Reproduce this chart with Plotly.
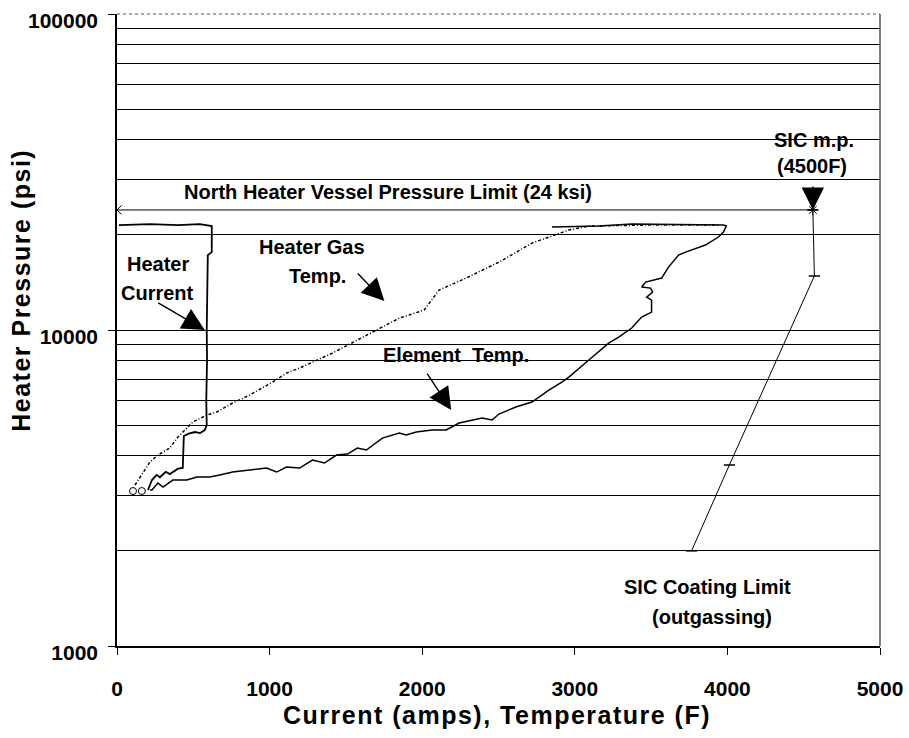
import math
import plotly.graph_objects as go

# ---------------- data ----------------
current_x = [203, 216, 229, 260, 281, 320, 346, 400, 431, 438, 470, 510, 545, 575, 588, 585, 590, 588, 592, 595, 621, 621, 542, 400, 216, 13]
current_y = [3117, 3250, 3352, 3480, 3420, 3560, 3500, 3640, 3660, 4619, 4700, 4756, 4720, 4826, 5000, 6000, 8000, 10000, 12440, 17270, 17650, 21340, 21650, 21500, 21650, 21490]

gas_x = [118, 150, 216, 268, 346, 399, 497, 588, 654, 758, 869, 1020, 1111, 1196, 1412, 1575, 1739, 1850, 2013, 2111, 2288, 2503, 2719, 2830, 2961, 3092, 3500, 3941]
gas_y = [3233, 3426, 3822, 4022, 4232, 4585, 5116, 5383, 5502, 5875, 6228, 6846, 7310, 7581, 8457, 9298, 10220, 10910, 11570, 13390, 14610, 16410, 18850, 19700, 20730, 21340, 21500, 21490]

element_x = [216, 229, 268, 301, 366, 458, 523, 608, 673, 758, 869, 980, 1046, 1111, 1196, 1281, 1360, 1438, 1510, 1575, 1634, 1739, 1850, 1895, 1961, 2065, 2157, 2242, 2392, 2458, 2503, 2614, 2719, 2765, 2830, 2915, 2961, 3092, 3222, 3288, 3373, 3438, 3503, 3503, 3471, 3510, 3497, 3438, 3464, 3569, 3614, 3680, 3726, 3856, 3941, 3974, 3993, 3974, 3373, 3157, 2850]
element_y = [3117, 3117, 3280, 3186, 3352, 3352, 3426, 3426, 3477, 3553, 3606, 3658, 3553, 3685, 3658, 3878, 3794, 4022, 4051, 4232, 4171, 4551, 4722, 4653, 4756, 4826, 4826, 5079, 5267, 5191, 5423, 5706, 5918, 6138, 6459, 6846, 7101, 8037, 9096, 9502, 10150, 10990, 11400, 12440, 12720, 13190, 13580, 13680, 14190, 14610, 15820, 17270, 17650, 18580, 19700, 20430, 21340, 21490, 21650, 21340, 21180]

start_x = [105, 163]
start_y = [3094, 3094]

limit_x = [0, 4560]
limit_y = [24000, 24000]

sic_x = [4560, 4570, 4013, 3765]
sic_y = [24000, 14830, 3740, 2000]

x_ticks = [0, 1000, 2000, 3000, 4000, 5000]
y_ticks = [1000, 10000, 100000]

# ---------------- figure ----------------
FAM = "Liberation Sans"
BOLD = dict(family=FAM, color="black", weight="bold")

fig = go.Figure()
fig.add_trace(go.Scatter(x=limit_x, y=limit_y, mode="lines+markers",
                         line=dict(color="black", width=1),
                         marker=dict(symbol=["x-thin-open", "asterisk-open"], size=9, color="black",
                                     line=dict(color="black", width=1))))
fig.add_trace(go.Scatter(x=sic_x, y=sic_y, mode="lines+markers",
                         line=dict(color="black", width=1),
                         marker=dict(symbol="line-ew-open", size=8, color="black",
                                     line=dict(color="black", width=1.5))))
fig.add_trace(go.Scatter(x=gas_x, y=gas_y, mode="lines",
                         line=dict(color="black", width=1.5, dash="3px,2px,1px,2px")))
fig.add_trace(go.Scatter(x=element_x, y=element_y, mode="lines",
                         line=dict(color="black", width=1.5)))
fig.add_trace(go.Scatter(x=current_x, y=current_y, mode="lines",
                         line=dict(color="black", width=1.8)))
fig.add_trace(go.Scatter(x=start_x, y=start_y, mode="markers",
                         marker=dict(symbol="circle-open", size=7, color="black",
                                     line=dict(color="black", width=1))))

ann_font = dict(BOLD, size=20)
annotations = [
    dict(x=1778, y=27340, text="North Heater Vessel Pressure Limit (24 ksi)"),
    dict(x=4569, y=39930, text="SIC m.p."),
    dict(x=4556, y=33030, text="(4500F)"),
    dict(x=268, y=16180, text="Heater"),
    dict(x=268, y=13095, text="Current"),
    dict(x=1281, y=18310, text="Heater Gas"),
    dict(x=1314, y=14830, text="Temp."),
    dict(x=2222, y=8335, text="Element  Temp."),
    dict(x=3870, y=1537, text="SIC Coating Limit"),
    dict(x=3900, y=1235, text="(outgassing)"),
]
for a in annotations:
    fig.add_annotation(xref="x", yref="y", x=a["x"], y=math.log10(a["y"]), text=a["text"],
                       showarrow=False, font=ann_font, xanchor="center", yanchor="middle")

arrows = [
    dict(x=575, y=10000, ax=-48, ay=-28),
    dict(x=1752, y=12350, ax=-28, ay=-29),
    dict(x=2190, y=5583, ax=-25, ay=-38),
    dict(x=limit_x[1], y=limit_y[1], ax=0, ay=-25),
]
for a in arrows:
    fig.add_annotation(xref="x", yref="y", x=a["x"], y=math.log10(a["y"]), ax=a["ax"], ay=a["ay"],
                       axref="pixel", ayref="pixel", text="", showarrow=True,
                       arrowhead=2, arrowsize=3.2, arrowwidth=1.4, arrowcolor="black")

# axis titles
fig.add_annotation(xref="paper", yref="paper", x=-0.125, y=0.563, textangle=-90,
                   text='<span style="letter-spacing:1.5px">Heater Pressure (psi)</span>',
                   showarrow=False, font=dict(BOLD, size=25), xanchor="center", yanchor="middle")
fig.add_annotation(xref="paper", yref="paper", x=0.498, y=-0.109,
                   text='<span style="letter-spacing:1.5px">Current (amps), Temperature (F)</span>',
                   showarrow=False, font=dict(BOLD, size=25), xanchor="center", yanchor="middle")

fig.update_layout(
    width=909, height=738,
    margin=dict(l=117, r=29, t=14, b=92),
    paper_bgcolor="white", plot_bgcolor="white",
    showlegend=False,
    font=dict(family=FAM, color="black"),
)
fig.update_xaxes(range=[0, 5000], tickvals=x_ticks, ticktext=[str(v) for v in x_ticks],
                 showgrid=False, zeroline=False, automargin=False,
                 showline=True, linecolor="black", linewidth=1.5,
                 ticks="outside", ticklen=7, tickwidth=1, tickcolor="black",
                 tickfont=dict(BOLD, size=21), ticklabelstandoff=16, ticklabeloverflow="allow")
fig.update_yaxes(type="log", range=[3, 5.0004], tickvals=y_ticks, ticktext=[str(v) for v in y_ticks],
                 showgrid=True, gridcolor="black", gridwidth=1.2, zeroline=False, automargin=False,
                 showline=True, linecolor="black", linewidth=1.5,
                 ticks="outside", ticklen=7, tickwidth=1, tickcolor="black",
                 tickfont=dict(BOLD, size=21), ticklabelstandoff=6, ticklabelshift=7,
                 ticklabeloverflow="allow",
                 minor=dict(dtick="D1", showgrid=True, gridcolor="black", gridwidth=1, ticks=""))
fig.add_shape(type="line", xref="paper", yref="paper", x0=1, x1=1, y0=0, y1=1,
              line=dict(color="black", width=1))
fig.add_shape(type="line", xref="paper", yref="paper", x0=0, x1=1, y0=1, y1=1,
              line=dict(color="#555", width=1, dash="dot"))

fig.write_html("out.html", config={"displayModeBar": False},
               post_script="document.body.style.margin='0';document.body.style.overflow='hidden';")
